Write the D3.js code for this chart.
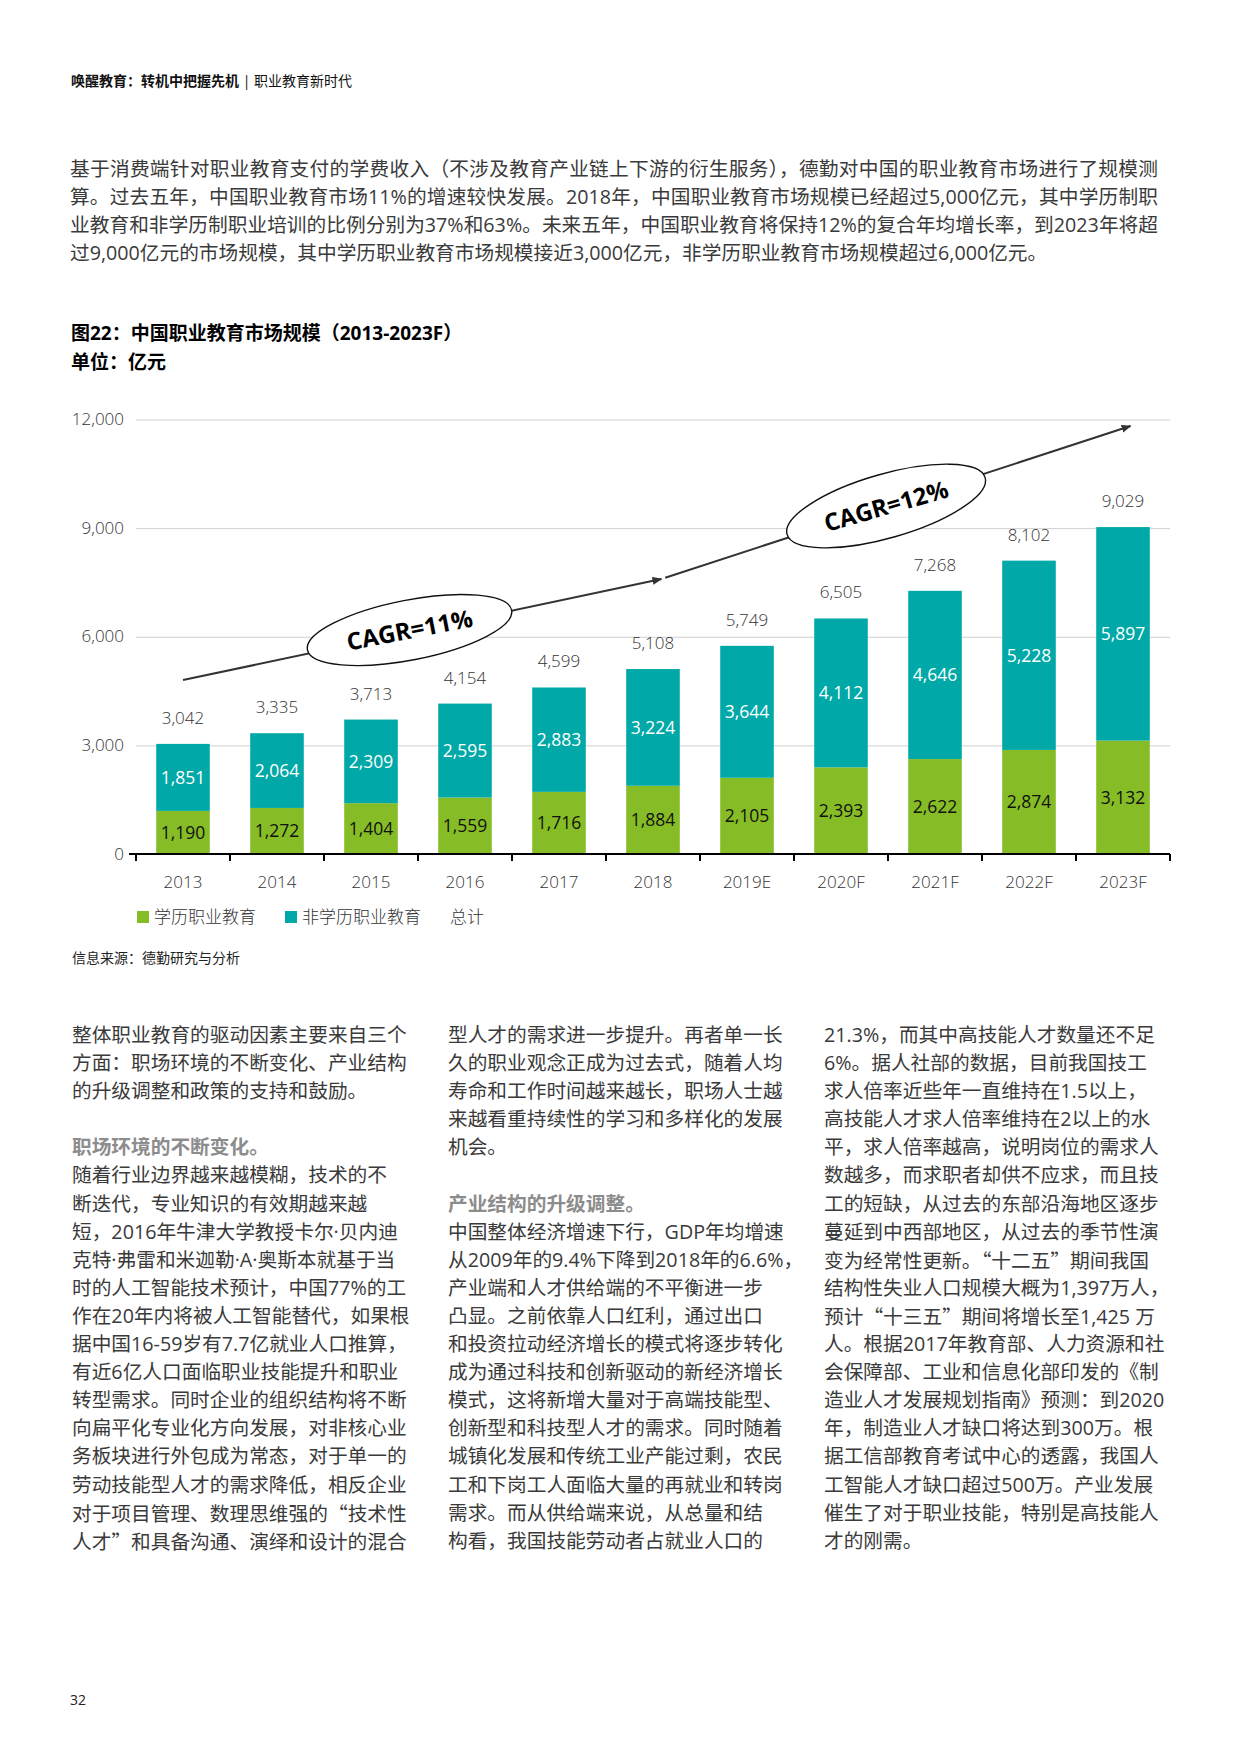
<!DOCTYPE html>
<html>
<head>
<meta charset="utf-8">
<script src="https://cdn.jsdelivr.net/npm/d3@7"></script>
<style>
  body { margin: 0; width: 1240px; height: 1754px; position: relative; background: #fff;
         font-family: "Open Sans", "Noto Sans CJK SC", sans-serif; color: #3a3a3a; overflow: hidden; }
  .abs { position: absolute; white-space: nowrap; }
  #header { left: 71px; top: 70px; font-size: 14px; line-height: 20px; color: #111; }
  #header b { font-family: "Noto Sans CJK SC", sans-serif; font-weight: 700; }
  #intro { left: 70px; top: 155px; width: 1088px; font-size: 19.7px; line-height: 28px; }
  #intro div { text-align: justify; text-align-last: justify; }
  #intro div:last-child { text-align-last: left; }
  .title { left: 71px; font-size: 19px; font-weight: 700; color: #000; line-height: 28px; }
  .col { top: 1021px; font-size: 19.7px; line-height: 28.1px; }
  .col div { height: 28.1px; }
  .col .hd { font-weight: 700; color: #8c8c8c; }
  .cq { font-family: "Noto Sans CJK SC", sans-serif; }
  #pageno { left: 70px; top: 1690px; font-size: 14px; color: #222; }
  svg { position: absolute; left: 0; top: 0; }
</style>
</head>
<body>
<div id="header" class="abs"><b>唤醒教育：转机中把握先机</b> | 职业教育新时代</div>
<div id="intro" class="abs"></div>
<div class="abs title" style="top:319px">图22：中国职业教育市场规模（2013-2023F）</div>
<div class="abs title" style="top:348px">单位：亿元</div>
<div id="col1" class="abs col" style="left:72px"></div>
<div id="col2" class="abs col" style="left:448px"></div>
<div id="col3" class="abs col" style="left:824px"></div>
<div id="pageno" class="abs">32</div>
<script>
// chart data
const categories = ["2013", "2014", "2015", "2016", "2017", "2018", "2019E", "2020F", "2021F", "2022F", "2023F"];
const academic = [1190, 1272, 1404, 1559, 1716, 1884, 2105, 2393, 2622, 2874, 3132];
const nonAcademic = [1851, 2064, 2309, 2595, 2883, 3224, 3644, 4112, 4646, 5228, 5897];
const totals = [3042, 3335, 3713, 4154, 4599, 5108, 5749, 6505, 7268, 8102, 9029];
const yTicks = [0, 3000, 6000, 9000, 12000];
const legendLabels = ["学历职业教育", "非学历职业教育", "总计"];
const cagrLabels = ["CAGR=11%", "CAGR=12%"];
const sourceText = "信息来源：德勤研究与分析";

// page text
const introLines = [
  "基于消费端针对职业教育支付的学费收入（不涉及教育产业链上下游的衍生服务），德勤对中国的职业教育市场进行了规模测",
  "算。过去五年，中国职业教育市场11%的增速较快发展。2018年，中国职业教育市场规模已经超过5,000亿元，其中学历制职",
  "业教育和非学历制职业培训的比例分别为37%和63%。未来五年，中国职业教育将保持12%的复合年均增长率，到2023年将超",
  "过9,000亿元的市场规模，其中学历职业教育市场规模接近3,000亿元，非学历职业教育市场规模超过6,000亿元。"
];
const col1Lines = [
  "整体职业教育的驱动因素主要来自三个",
  "方面：职场环境的不断变化、产业结构",
  "的升级调整和政策的支持和鼓励。",
  "",
  "#职场环境的不断变化。",
  "随着行业边界越来越模糊，技术的不",
  "断迭代，专业知识的有效期越来越",
  "短，2016年牛津大学教授卡尔·贝内迪",
  "克特·弗雷和米迦勒·A·奥斯本就基于当",
  "时的人工智能技术预计，中国77%的工",
  "作在20年内将被人工智能替代，如果根",
  "据中国16-59岁有7.7亿就业人口推算，",
  "有近6亿人口面临职业技能提升和职业",
  "转型需求。同时企业的组织结构将不断",
  "向扁平化专业化方向发展，对非核心业",
  "务板块进行外包成为常态，对于单一的",
  "劳动技能型人才的需求降低，相反企业",
  "对于项目管理、数理思维强的“技术性",
  "人才”和具备沟通、演绎和设计的混合"
];
const col2Lines = [
  "型人才的需求进一步提升。再者单一长",
  "久的职业观念正成为过去式，随着人均",
  "寿命和工作时间越来越长，职场人士越",
  "来越看重持续性的学习和多样化的发展",
  "机会。",
  "",
  "#产业结构的升级调整。",
  "中国整体经济增速下行，GDP年均增速",
  "从2009年的9.4%下降到2018年的6.6%，",
  "产业端和人才供给端的不平衡进一步",
  "凸显。之前依靠人口红利，通过出口",
  "和投资拉动经济增长的模式将逐步转化",
  "成为通过科技和创新驱动的新经济增长",
  "模式，这将新增大量对于高端技能型、",
  "创新型和科技型人才的需求。同时随着",
  "城镇化发展和传统工业产能过剩，农民",
  "工和下岗工人面临大量的再就业和转岗",
  "需求。而从供给端来说，从总量和结",
  "构看，我国技能劳动者占就业人口的"
];
const col3Lines = [
  "21.3%，而其中高技能人才数量还不足",
  "6%。据人社部的数据，目前我国技工",
  "求人倍率近些年一直维持在1.5以上，",
  "高技能人才求人倍率维持在2以上的水",
  "平，求人倍率越高，说明岗位的需求人",
  "数越多，而求职者却供不应求，而且技",
  "工的短缺，从过去的东部沿海地区逐步",
  "蔓延到中西部地区，从过去的季节性演",
  "变为经常性更新。“十二五”期间我国",
  "结构性失业人口规模大概为1,397万人，",
  "预计“十三五”期间将增长至1,425 万",
  "人。根据2017年教育部、人力资源和社",
  "会保障部、工业和信息化部印发的《制",
  "造业人才发展规划指南》预测：到2020",
  "年，制造业人才缺口将达到300万。根",
  "据工信部教育考试中心的透露，我国人",
  "工智能人才缺口超过500万。产业发展",
  "催生了对于职业技能，特别是高技能人",
  "才的刚需。"
];

d3.select("#intro").selectAll("div").data(introLines).join("div").text(d => d);
// curly quotes drawn full-width from the CJK font
const cjkQuotes = s => s.replace(/[“”]/g, m => '<span class="cq">' + m + '</span>');
function fillColumn(sel, lines) {
  d3.select(sel).selectAll("div").data(lines).join("div")
    .attr("class", d => d.startsWith("#") ? "hd" : null)
    .html(d => cjkQuotes(d.replace(/^#/, "")));
}
fillColumn("#col1", col1Lines);
fillColumn("#col2", col2Lines);
fillColumn("#col3", col3Lines);

// chart
const green = "#86BC25";
const teal = "#00A9A7";
const plotLeft = 136, plotRight = 1170, plotTop = 419.5, plotBottom = 854;
const numFont = "'Open Sans', sans-serif";
const cjkFont = "'Noto Sans CJK SC', sans-serif";

const svg = d3.select("body").append("svg")
  .attr("width", 1240)
  .attr("height", 1754);

const x = d3.scaleBand()
  .domain(categories)
  .range([plotLeft, plotRight])
  .paddingInner(0.43)
  .paddingOuter(0.215);
const y = d3.scaleLinear()
  .domain([0, 12000])
  .range([plotBottom, plotTop]);

// fractional category position -> pixel (for the CAGR annotations)
const xAt = i => plotLeft + x.step() * (i + 0.5);

// gridlines
svg.append("g")
  .attr("transform", "translate(" + plotLeft + ",0)")
  .call(d3.axisLeft(y).tickValues(yTicks.filter(d => d > 0)).tickSize(-(plotRight - plotLeft)).tickFormat(""))
  .call(g => g.select(".domain").remove())
  .selectAll("line").attr("stroke", "#cfcfcf").attr("stroke-width", 1);

// y tick labels
svg.append("g")
  .attr("transform", "translate(" + plotLeft + ",0)")
  .call(d3.axisLeft(y).tickValues(yTicks).tickSize(0).tickPadding(12).tickFormat(d3.format(",")))
  .call(g => g.select(".domain").remove())
  .selectAll("text")
  .attr("dy", "0.3em")
  .style("font-family", numFont).style("font-weight", 300)
  .style("font-size", "17px").attr("fill", "#333");

// stacked bars
const rows = categories.map((c, i) => ({ cat: c, academic: academic[i], nonAcademic: nonAcademic[i], total: totals[i] }));
const series = d3.stack().keys(["academic", "nonAcademic"])(rows);
const colors = { academic: green, nonAcademic: teal };
const labelColors = { academic: "#111", nonAcademic: "#fff" };

const layer = svg.append("g").selectAll("g")
  .data(series)
  .join("g");

layer.selectAll("rect")
  .data(s => s.map(d => ({ d: d, key: s.key })))
  .join("rect")
  .attr("x", p => x(p.d.data.cat))
  .attr("width", x.bandwidth())
  .attr("y", p => y(p.d[1]))
  .attr("height", p => y(p.d[0]) - y(p.d[1]))
  .attr("fill", p => colors[p.key]);

layer.selectAll("text")
  .data(s => s.map(d => ({ d: d, key: s.key })))
  .join("text")
  .attr("x", p => x(p.d.data.cat) + x.bandwidth() / 2)
  .attr("y", p => (y(p.d[0]) + y(p.d[1])) / 2)
  .attr("dy", "0.36em")
  .attr("text-anchor", "middle")
  .style("font-family", numFont).style("font-size", "17.5px")
  .attr("fill", p => labelColors[p.key])
  .text(p => d3.format(",")(p.d.data[p.key]));

// totals above bars
svg.append("g").selectAll("text")
  .data(rows)
  .join("text")
  .attr("x", d => x(d.cat) + x.bandwidth() / 2)
  .attr("y", d => y(d.academic + d.nonAcademic) - 20)
  .attr("text-anchor", "middle")
  .style("font-family", numFont).style("font-weight", 300).style("font-size", "17px")
  .attr("fill", "#333")
  .text(d => d3.format(",")(d.total));

// x axis
const xAxis = svg.append("g")
  .attr("transform", "translate(0," + plotBottom + ")")
  .call(d3.axisBottom(x).tickSize(0).tickPadding(22));
xAxis.select(".domain").remove();
xAxis.selectAll("text")
  .style("font-family", numFont).style("font-weight", 300)
  .style("font-size", "17px").attr("fill", "#333");
xAxis.append("line")
  .attr("x1", plotLeft - 7).attr("x2", plotRight)
  .attr("stroke", "#000").attr("stroke-width", 2.2);
xAxis.selectAll(".bound")
  .data(d3.range(categories.length + 1))
  .join("line")
  .attr("class", "bound")
  .attr("x1", i => plotLeft + i * x.step()).attr("x2", i => plotLeft + i * x.step())
  .attr("y1", 0).attr("y2", 7)
  .attr("stroke", "#000").attr("stroke-width", 2);

// CAGR arrows and ellipses (anchored in category/value space)
svg.append("defs").append("marker")
  .attr("id", "head")
  .attr("viewBox", "0 0 10 10")
  .attr("refX", 9).attr("refY", 5)
  .attr("markerWidth", 5).attr("markerHeight", 5)
  .attr("orient", "auto")
  .append("path").attr("d", "M0,1 L10,5 L0,9 Z").attr("fill", "#333");

const arrows = [
  { from: [0, 4805], to: [5.09, 7595] },
  { from: [5.13, 7630], to: [10.08, 11820] }
];
const bubbles = [
  { at: [2.41, 6186], rx: 104, ry: 30, angle: -11, label: cagrLabels[0] },
  { at: [7.48, 9611], rx: 103, ry: 32, angle: -16, label: cagrLabels[1] }
];

svg.append("g").selectAll("line")
  .data(arrows)
  .join("line")
  .attr("x1", d => xAt(d.from[0])).attr("y1", d => y(d.from[1]))
  .attr("x2", d => xAt(d.to[0])).attr("y2", d => y(d.to[1]))
  .attr("stroke", "#333").attr("stroke-width", 2)
  .attr("marker-end", "url(#head)");

const bubble = svg.append("g").selectAll("g")
  .data(bubbles)
  .join("g")
  .attr("transform", d => "translate(" + xAt(d.at[0]) + "," + y(d.at[1]) + ") rotate(" + d.angle + ")");
bubble.append("ellipse")
  .attr("rx", d => d.rx).attr("ry", d => d.ry)
  .attr("fill", "#fff").attr("stroke", "#111").attr("stroke-width", 1.4);
bubble.append("text")
  .attr("text-anchor", "middle").attr("dy", "0.36em")
  .style("font-family", numFont).style("font-weight", 700).style("font-size", "24px")
  .attr("fill", "#000")
  .text(d => d.label);

// legend
const legendColors = [green, teal, null];
const legend = svg.append("g").attr("transform", "translate(0,917)");
let cursor = 137;
legendLabels.forEach((label, i) => {
  let tx = cursor;
  if (legendColors[i]) {
    legend.append("rect").attr("x", cursor).attr("y", -6).attr("width", 12).attr("height", 12)
      .attr("fill", legendColors[i]);
    tx = cursor + 17;
  }
  const t = legend.append("text")
    .attr("x", tx).attr("dy", "0.36em")
    .style("font-family", cjkFont).style("font-weight", 300).style("font-size", "17px")
    .attr("fill", "#333")
    .text(label);
  cursor = tx + t.node().getComputedTextLength() + 29;
});

// source
svg.append("text")
  .attr("x", 72).attr("y", 958).attr("dy", "0.36em")
  .style("font-family", cjkFont).style("font-size", "14px")
  .attr("fill", "#222")
  .text(sourceText);
</script>
</body>
</html>
